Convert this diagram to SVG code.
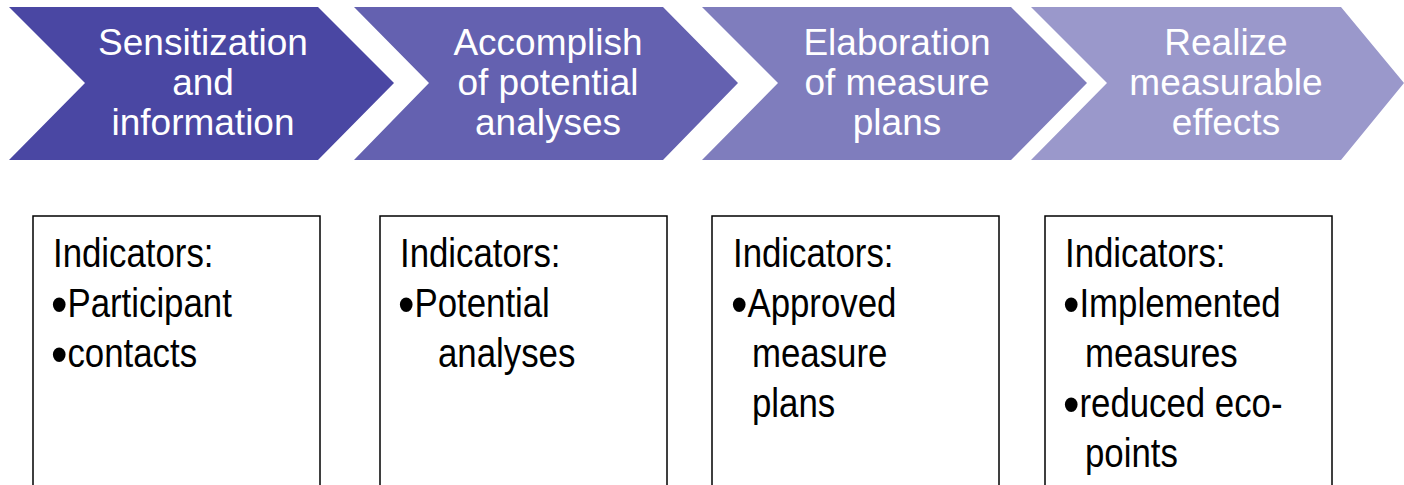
<svg xmlns="http://www.w3.org/2000/svg" width="1404" height="485" viewBox="0 0 1404 485">
<style>
.chev text{font-family:"Liberation Sans",Arial,sans-serif;font-size:37px;fill:#fff;text-anchor:middle}
.box rect{fill:#fff;stroke:#000;stroke-width:1.5}
.box text{font-family:"Liberation Sans",Arial,sans-serif;font-size:40px;fill:#000}
.b{font-size:54px}
</style>
<rect width="1404" height="485" fill="#fff"/>
<g id="step1" class="chev">
<polygon points="9,7 318,7 394,83 318,160 9,160 85,83" fill="#4A47A3"/>
<text x="203" y="55">Sensitization</text>
<text x="203" y="95">and</text>
<text x="203" y="135">information</text>
</g>
<g id="step2" class="chev">
<polygon points="354,7 663,7 738,83 663,160 354,160 429,83" fill="#6461B0"/>
<text x="548" y="55">Accomplish</text>
<text x="548" y="95">of potential</text>
<text x="548" y="135">analyses</text>
</g>
<g id="step3" class="chev">
<polygon points="702,7 1011,7 1087,83 1011,160 702,160 778,83" fill="#7F7DBD"/>
<text x="897" y="55">Elaboration</text>
<text x="897" y="95">of measure</text>
<text x="897" y="135">plans</text>
</g>
<g id="step4" class="chev">
<polygon points="1031,7 1341,7 1404,83 1341,160 1031,160 1107,83" fill="#9A98CB"/>
<text x="1226" y="55">Realize</text>
<text x="1226" y="95">measurable</text>
<text x="1226" y="135">effects</text>
</g>
<g id="connectors"></g>
<g id="box1" class="box">
<rect x="33" y="216" width="287" height="300"/>
<text transform="translate(53,0) scale(0.87,1)" y="267">Indicators:</text>
<text transform="translate(51,0) scale(0.87,1)" y="317"><tspan class="b" dy="6">•</tspan><tspan dy="-6">Participant</tspan></text>
<text transform="translate(51,0) scale(0.87,1)" y="367"><tspan class="b" dy="6">•</tspan><tspan dy="-6">contacts</tspan></text>
</g>
<g id="box2" class="box">
<rect x="380" y="216" width="287" height="300"/>
<text transform="translate(400,0) scale(0.87,1)" y="267">Indicators:</text>
<text transform="translate(398,0) scale(0.87,1)" y="317"><tspan class="b" dy="6">•</tspan><tspan dy="-6">Potential</tspan></text>
<text transform="translate(438,0) scale(0.87,1)" y="367">analyses</text>
</g>
<g id="box3" class="box">
<rect x="712" y="216" width="287" height="300"/>
<text transform="translate(733,0) scale(0.87,1)" y="267">Indicators:</text>
<text transform="translate(731,0) scale(0.87,1)" y="317"><tspan class="b" dy="6">•</tspan><tspan dy="-6">Approved</tspan></text>
<text transform="translate(752,0) scale(0.87,1)" y="367">measure</text>
<text transform="translate(752,0) scale(0.87,1)" y="417">plans</text>
</g>
<g id="box4" class="box">
<rect x="1045" y="216" width="287" height="300"/>
<text transform="translate(1065,0) scale(0.87,1)" y="267">Indicators:</text>
<text transform="translate(1063,0) scale(0.87,1)" y="317"><tspan class="b" dy="6">•</tspan><tspan dy="-6">Implemented</tspan></text>
<text transform="translate(1085,0) scale(0.87,1)" y="367">measures</text>
<text transform="translate(1063,0) scale(0.87,1)" y="417"><tspan class="b" dy="6">•</tspan><tspan dy="-6">reduced eco-</tspan></text>
<text transform="translate(1085,0) scale(0.87,1)" y="467">points</text>
</g>
</svg>
